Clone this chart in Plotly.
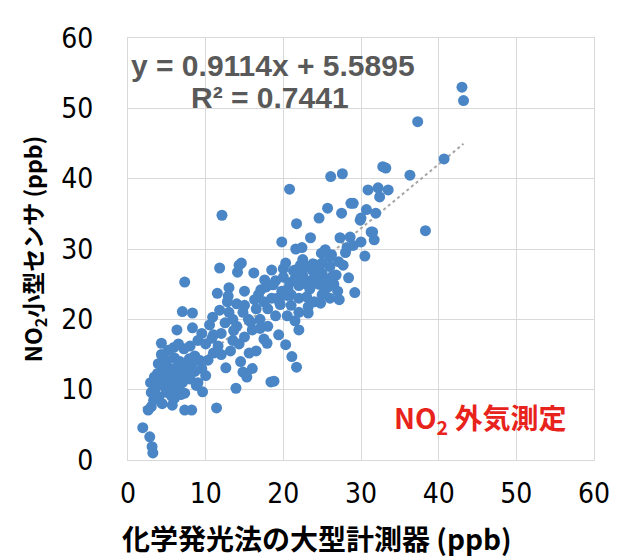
import plotly.graph_objects as go

# Reference instrument (chemiluminescence) NO2, ppb
x_ref = [
    1.9, 2.8, 3.1, 3.2, 2.6, 3.0, 3.3, 3.0, 3.5, 2.9, 3.4, 3.8, 4.0, 4.4, 4.6, 4.2, 4.8, 5.0, 5.3, 5.6,
    5.8, 6.2, 6.5, 4.5, 5.0, 5.5, 6.0, 4.3, 5.2, 6.4, 6.8, 7.0, 7.3, 7.6, 8.0, 8.3, 6.0, 5.7, 4.3, 7.3,
    8.2, 11.4, 9.6, 9.0, 8.6, 7.2, 6.5, 9.5, 10.0, 10.3, 3.9, 5.9,
    6.3, 7.0, 8.3, 8.3, 7.3, 11.5, 10.9, 11.8, 12.1, 9.0, 10.0, 11.0, 12.0, 12.5, 13.0, 13.5, 14.0, 12.6,
    13.9, 13.2, 12.0, 11.0, 14.5, 14.3, 15.0, 14.8, 15.3, 15.6, 13.5, 9.5, 8.0, 12.8, 14.0, 15.0, 15.5, 16.0,
    16.5, 15.0, 14.3, 14.1, 16.2, 14.6, 16.8, 17.1, 17.5, 17.0, 18.0, 18.5, 18.0, 17.5, 17.9, 19.4, 20.3, 21.1,
    21.7, 18.4, 18.8, 16.5, 16.0, 19.0, 19.5, 19.8, 18.5, 20.3, 19.0,
    19.8, 21.6, 22.4, 23.5, 20.0, 20.8, 21.5, 22.0, 22.5, 23.0, 23.5, 24.0, 24.5, 25.0, 25.5, 25.8, 21.0, 22.0,
    23.0, 23.2, 23.2, 22.0, 24.0, 25.0, 26.0, 26.5, 27.0, 21.0, 20.5, 22.0, 24.9, 26.2, 26.0, 27.1, 27.7, 28.4,
    29.2, 27.2, 26.0, 25.0, 24.0, 23.0, 22.5, 21.5, 27.3, 28.6, 30.0, 31.3, 31.7, 20.8, 21.7, 24.6, 25.7, 27.5,
    28.7, 30.0, 30.7, 31.9, 26.1, 27.6, 30.9, 32.2, 33.5, 32.4, 32.8, 33.2, 36.3, 40.7, 37.3, 38.3, 43.0, 43.2,
    28.0, 29.0, 30.5, 29.9, 31.5, 29.0, 22.2, 13.0, 10.5, 11.8, 12.9, 15.8, 17.0, 18.7, 20.5, 21.5, 24.3, 26.8,
    9.2, 8.8, 7.8, 6.8, 10.8, 11.6, 13.6, 14.8, 16.3, 17.6, 19.2, 20.0, 23.8, 24.8, 25.4, 28.2,
    4.1, 4.7, 5.4, 6.1, 6.7, 7.4, 3.6, 4.9, 5.6, 6.3, 7.1, 7.9, 8.6,
    20.6, 21.3, 22.7, 23.7, 24.6, 25.3, 26.3, 21.9, 23.4, 24.2, 19.6, 17.8,
]
# Small NO2 sensor, ppb
y_sensor = [
    4.6, 3.3, 1.9, 1.0, 7.1, 7.6, 8.5, 9.6, 10.2, 11.0, 11.8, 12.3, 9.0, 8.0, 10.5, 11.5, 12.0, 9.6, 11.0, 10.2,
    12.5, 11.2, 10.0, 13.5, 14.2, 13.0, 14.5, 15.0, 15.6, 13.3, 12.2, 11.0, 9.5, 12.8, 11.5, 13.8, 8.8, 7.8, 16.6, 7.1,
    7.1, 7.4, 9.7, 11.0, 14.8, 15.8, 16.5, 13.0, 12.0, 14.2, 13.7, 16.0,
    18.5, 21.1, 20.9, 18.8, 25.3, 23.7, 20.3, 27.3, 34.8, 17.0, 16.5, 17.8, 18.0, 19.5, 21.0, 20.0, 19.0, 13.1,
    10.2, 15.5, 15.0, 15.2, 14.0, 16.5, 17.5, 12.5, 11.8, 15.2, 17.0, 18.0, 16.2, 22.5, 22.2, 22.0, 20.0, 18.5,
    21.5, 24.0, 27.7, 26.7, 26.6, 28.0, 23.5, 24.2, 22.5, 20.0, 21.5, 23.0, 19.0, 17.2, 16.6, 17.8, 16.4, 14.7,
    13.2, 11.1, 11.2, 15.5, 13.0, 20.5, 22.5, 24.0, 27.0, 28.0, 25.5,
    31.0, 30.0, 30.2, 31.6, 26.0, 25.2, 25.8, 24.8, 26.2, 25.5, 24.8, 26.0, 25.0, 26.5, 25.5, 24.6, 23.5, 23.0,
    23.2, 21.8, 20.9, 18.5, 22.5, 23.5, 23.0, 25.0, 24.0, 22.0, 20.5, 21.0, 29.4, 29.2, 28.9, 28.2, 27.7, 25.9,
    23.8, 22.8, 27.5, 28.0, 27.8, 27.5, 28.5, 27.0, 31.6, 31.7, 31.0, 32.4, 31.3, 38.5, 33.6, 34.4, 35.8, 35.1,
    36.5, 34.4, 35.6, 35.1, 40.3, 40.7, 38.4, 38.7, 38.4, 37.4, 41.7, 41.5, 40.5, 42.8, 48.1, 32.6, 53.0, 51.1,
    29.5, 30.5, 29.0, 34.1, 32.4, 36.5, 27.7, 24.5, 19.2, 21.3, 23.3, 19.6, 18.7, 24.9, 23.4, 19.8, 26.8, 26.3,
    14.2, 10.6, 13.9, 9.3, 17.3, 16.2, 18.4, 21.0, 22.8, 25.6, 23.0, 27.2, 27.9, 22.3, 29.9, 30.2,
    10.9, 13.1, 12.4, 11.7, 14.0, 13.4, 9.3, 10.1, 9.1, 12.0, 12.3, 14.4, 12.6,
    24.3, 26.9, 25.1, 27.0, 27.3, 24.1, 26.1, 26.8, 24.3, 25.7, 22.1, 24.6,
]

slope = 0.9114
intercept = 5.5895
r2 = 0.7441

x_min, x_max = min(x_ref), max(x_ref)
trend_x = [x_min, x_max]
trend_y = [slope * v + intercept for v in trend_x]

tick_vals = [0, 10, 20, 30, 40, 50, 60]
tick_text = ["0", "10", "20", "30", "40", "50", "60"]

fig = go.Figure()
fig.add_trace(go.Scatter(
    x=trend_x, y=trend_y, mode="lines",
    line=dict(color="#a6a6a6", width=2, dash="dot"),
    hoverinfo="skip", showlegend=False,
))
fig.add_trace(go.Scatter(
    x=x_ref, y=y_sensor, mode="markers",
    marker=dict(size=11, color="#4a86c6", line=dict(width=0)),
    showlegend=False,
))

tick_font = dict(family="Liberation Sans Narrow, DejaVu Sans Condensed, Arial", size=28, color="#000000")
ytitle_font = dict(family="Noto Sans CJK JP, Noto Sans, sans-serif", size=23, color="#000000")
xtitle_font = dict(family="Noto Sans CJK JP, Noto Sans, sans-serif", size=28, color="#000000")

fig.update_layout(
    width=622, height=558,
    margin=dict(l=128, r=24, t=38, b=98),
    paper_bgcolor="white", plot_bgcolor="white",
    xaxis=dict(
        range=[0, 60], tickvals=tick_vals, ticktext=tick_text,
        showgrid=True, gridcolor="#d9d9d9", gridwidth=1,
        showline=True, linecolor="#d9d9d9", mirror=True, zeroline=False,
        tickfont=tick_font, ticks="", ticklabelstandoff=8,
    ),
    yaxis=dict(
        range=[0, 60], tickvals=tick_vals, ticktext=tick_text,
        showgrid=True, gridcolor="#d9d9d9", gridwidth=1,
        showline=True, linecolor="#d9d9d9", mirror=True, zeroline=False,
        tickfont=tick_font, ticks="", ticklabelstandoff=28,
        title=dict(text="<b>NO<sub>2</sub>小型センサ (ppb)</b>", font=ytitle_font, standoff=12),
    ),
    annotations=[
        dict(text="<b>化学発光法の大型計測器 (ppb)</b>", xref="paper", yref="paper",
             x=0.406, y=-0.185, xanchor="center", yanchor="middle", showarrow=False,
             font=xtitle_font),
        dict(text=f"<b>y = {slope}x + {intercept}</b>", xref="paper", yref="paper",
             x=0.003, y=0.935, xanchor="left", yanchor="middle", showarrow=False,
             font=dict(family="Liberation Sans, Arial", size=30, color="#595959")),
        dict(text=f"<b>R² = {r2}</b>", xref="paper", yref="paper",
             x=0.305, y=0.858, xanchor="center", yanchor="middle", showarrow=False,
             font=dict(family="Liberation Sans, Arial", size=30, color="#595959")),
        dict(text="<b>NO<sub>2</sub> 外気測定</b>", xref="paper", yref="paper",
             x=0.755, y=0.097, xanchor="center", yanchor="middle", showarrow=False,
             font=dict(family="Noto Sans CJK JP, sans-serif", size=28, color="#e8231c")),
    ],
)

fig.write_html("out.html")
